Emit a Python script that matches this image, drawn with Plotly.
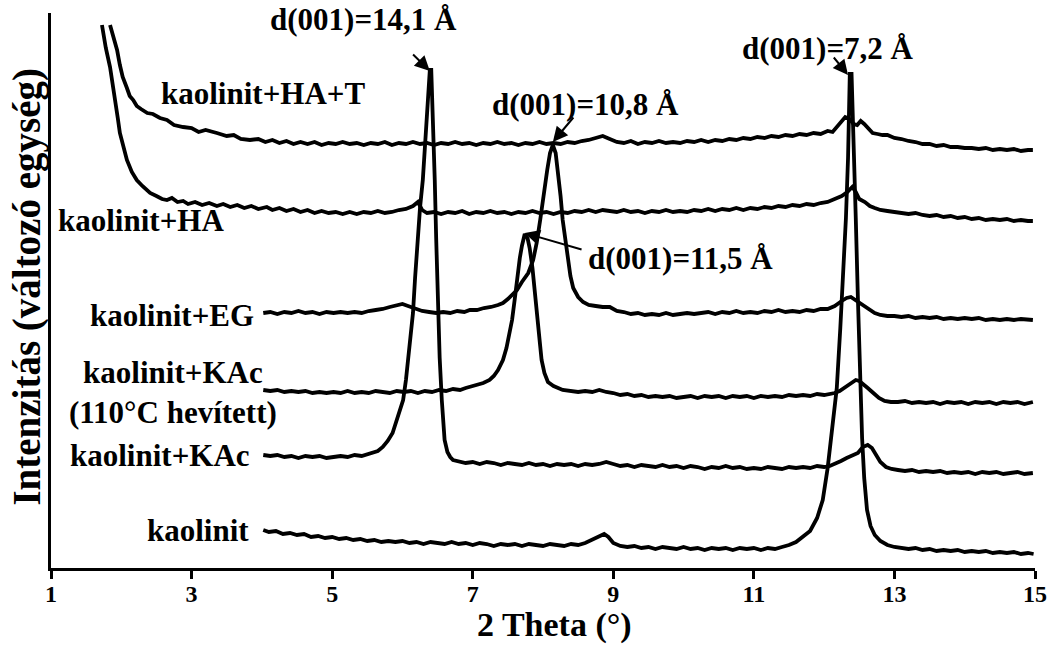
import plotly.graph_objects as go

# ---------------- data (2 Theta in degrees, intensity in arbitrary offset units) -------------
kaolinit_x = [4.02,4.1,4.2,4.3,4.4,4.5,4.6,4.7,4.8,4.9,5.0,5.1,5.2,5.3,5.4,5.5,5.6,5.7,5.8,5.9,6.0,6.1,6.2,6.3,6.4,6.5,6.6,6.7,6.8,6.9,7.0,7.1,7.2,7.3,7.4,7.5,7.6,7.7,7.8,7.9,8.0,8.1,8.2,8.3,8.4,8.5,8.6,8.7,8.8,8.87,8.93,9.0,9.1,9.2,9.3,9.4,9.5,9.6,9.7,9.8,9.9,10.0,10.1,10.2,10.3,10.4,10.5,10.6,10.7,10.8,10.9,11.0,11.1,11.2,11.3,11.4,11.5,11.6,11.7,11.8,11.9,11.98,12.05,12.12,12.18,12.23,12.27,12.31,12.34,12.365,12.39,12.42,12.45,12.48,12.51,12.54,12.57,12.61,12.66,12.72,12.8,12.9,13.0,13.1,13.2,13.3,13.4,13.5,13.6,13.7,13.8,13.9,14.0,14.1,14.2,14.3,14.4,14.5,14.6,14.7,14.8,14.9,14.98]
kaolinit_y = [38,36,37,34,35,33,34,31,32,30,31,29,30,28,29,27,28,26,27,26,27,25,26,24,26,25,24,26,24,25,23,25,24,22,24,23,24,22,24,23,22,24,23,22,24,23,25,28,32,34,31,25,22,21,22,20,21,19,21,20,19,21,19,20,18,20,19,20,18,20,19,20,18,20,19,21,23,26,31,37,50,68,100,140,180,240,290,350,410,494,494,430,350,270,195,130,90,58,42,33,27,23,21,20,19,20,18,19,17,18,17,18,16,17,16,17,15,16,15,16,14,15,14]

kac_x = [4.02,4.12,4.22,4.32,4.42,4.52,4.62,4.72,4.82,4.92,5.02,5.12,5.22,5.32,5.42,5.5,5.58,5.65,5.72,5.79,5.86,5.92,5.97,6.01,6.05,6.08,6.12,6.15,6.18,6.21,6.25,6.29,6.32,6.35,6.39,6.41,6.43,6.46,6.48,6.51,6.53,6.56,6.58,6.6,6.64,6.68,6.72,6.8,6.9,7.0,7.1,7.2,7.3,7.4,7.5,7.6,7.7,7.8,7.9,8.0,8.1,8.2,8.3,8.4,8.5,8.6,8.7,8.8,8.9,9.0,9.1,9.2,9.3,9.4,9.5,9.6,9.7,9.8,9.9,10.0,10.1,10.2,10.3,10.4,10.5,10.6,10.7,10.8,10.9,11.0,11.1,11.2,11.3,11.4,11.5,11.6,11.7,11.8,11.9,12.0,12.08,12.16,12.24,12.32,12.4,12.48,12.55,12.62,12.68,12.74,12.8,12.88,12.96,13.05,13.15,13.25,13.35,13.45,13.55,13.65,13.75,13.85,13.95,14.05,14.15,14.25,14.35,14.45,14.55,14.65,14.75,14.85,14.97]
kac_y = [113,112,113,111,112,110,112,111,112,110,111,112,111,113,112,114,115,117,121,127,135,148,158,168,188,208,232,255,290,325,360,388,420,460,498,498,460,388,330,255,210,168,145,128,116,111,108,107,105,106,104,106,105,103,105,104,103,105,103,104,102,104,103,104,102,104,103,104,106,104,102,103,101,103,102,101,103,101,102,100,102,101,99,101,100,102,100,101,99,100,99,101,100,99,101,100,101,100,102,101,102,104,107,110,112,115,121,123,120,113,106,101,99,98,97,98,96,97,96,97,95,96,95,96,94,96,95,96,94,95,96,94,95]

kac110_x = [4.02,4.12,4.22,4.32,4.42,4.52,4.62,4.72,4.82,4.92,5.02,5.12,5.22,5.32,5.42,5.52,5.62,5.72,5.82,5.92,6.02,6.12,6.22,6.32,6.42,6.52,6.62,6.72,6.82,6.9,6.96,7.05,7.15,7.24,7.3,7.36,7.43,7.48,7.52,7.56,7.6,7.63,7.67,7.7,7.74,7.78,7.81,7.85,7.88,7.91,7.93,7.96,7.98,8.02,8.07,8.15,8.28,8.4,8.5,8.6,8.7,8.8,8.9,9.0,9.1,9.2,9.3,9.4,9.5,9.6,9.7,9.8,9.9,10.0,10.1,10.2,10.3,10.4,10.5,10.6,10.7,10.8,10.9,11.0,11.1,11.2,11.3,11.4,11.5,11.6,11.7,11.8,11.9,12.0,12.08,12.15,12.22,12.3,12.38,12.45,12.5,12.56,12.62,12.7,12.78,12.86,12.95,13.05,13.15,13.25,13.35,13.45,13.55,13.65,13.75,13.85,13.95,14.05,14.15,14.25,14.35,14.45,14.55,14.65,14.75,14.85,14.97]
kac110_y = [178,177,178,176,177,176,177,175,176,175,176,175,177,175,176,175,177,176,175,177,176,177,175,177,176,178,177,179,178,180,181,183,185,188,192,198,208,220,232,248,270,291,310,322,334,330,320,300,281,260,241,222,208,195,186,182,178,177,176,177,176,178,176,175,173,174,172,173,171,172,171,172,170,171,172,170,172,171,172,170,172,171,172,170,172,171,172,171,173,172,173,172,174,173,174,175,177,181,185,188,187,184,180,175,170,167,166,166,167,165,166,165,166,164,166,165,166,164,166,165,166,164,166,165,166,164,166]

eg_x = [4.02,4.12,4.22,4.32,4.42,4.52,4.62,4.72,4.82,4.92,5.02,5.12,5.22,5.32,5.42,5.52,5.62,5.72,5.82,5.92,6.0,6.08,6.18,6.28,6.38,6.48,6.58,6.68,6.78,6.88,6.96,7.06,7.16,7.26,7.36,7.43,7.5,7.56,7.63,7.7,7.79,7.86,7.91,7.96,8.01,8.06,8.1,8.14,8.18,8.21,8.25,8.28,8.32,8.35,8.39,8.43,8.5,8.57,8.65,8.75,8.85,8.95,9.05,9.15,9.25,9.35,9.45,9.55,9.65,9.75,9.85,9.95,10.05,10.15,10.25,10.35,10.45,10.55,10.65,10.75,10.85,10.95,11.05,11.15,11.25,11.35,11.45,11.55,11.65,11.75,11.85,11.95,12.05,12.15,12.25,12.32,12.38,12.44,12.5,12.58,12.65,12.72,12.8,12.9,13.0,13.1,13.2,13.3,13.4,13.5,13.6,13.7,13.8,13.9,14.0,14.1,14.2,14.3,14.4,14.5,14.6,14.7,14.8,14.9,14.97]
eg_y = [255,256,254,256,255,257,255,256,254,256,255,256,255,256,255,257,258,259,261,263,264,262,259,257,256,255,256,255,257,256,258,258,260,261,263,265,269,273,278,286,295,308,325,348,375,398,415,423,415,398,372,348,325,308,292,280,271,266,263,262,261,261,257,256,254,255,253,254,253,255,253,254,255,254,255,256,254,256,255,257,255,256,255,257,256,258,256,257,256,258,257,259,259,262,267,270,271,268,266,262,258,255,253,252,252,251,252,250,251,250,251,249,250,249,250,249,250,248,249,248,249,248,249,248,248]

ha_x = [1.725,1.78,1.84,1.88,1.91,1.95,1.98,2.03,2.08,2.15,2.22,2.3,2.41,2.5,2.58,2.65,2.72,2.8,2.88,2.95,3.05,3.15,3.25,3.36,3.45,3.55,3.65,3.75,3.85,3.95,4.07,4.15,4.25,4.35,4.45,4.55,4.65,4.75,4.85,4.95,5.05,5.15,5.25,5.35,5.45,5.55,5.65,5.75,5.85,5.95,6.05,6.15,6.22,6.28,6.35,6.45,6.55,6.65,6.75,6.85,6.95,7.05,7.15,7.25,7.35,7.45,7.55,7.65,7.75,7.85,7.95,8.05,8.15,8.25,8.35,8.45,8.55,8.65,8.75,8.85,8.95,9.05,9.15,9.25,9.35,9.45,9.55,9.65,9.75,9.85,9.95,10.05,10.15,10.25,10.35,10.45,10.55,10.65,10.75,10.85,10.95,11.05,11.15,11.25,11.35,11.45,11.55,11.65,11.75,11.85,11.95,12.05,12.15,12.25,12.33,12.4,12.45,12.5,12.58,12.65,12.72,12.8,12.9,13.0,13.1,13.2,13.3,13.4,13.5,13.6,13.7,13.8,13.9,14.0,14.1,14.2,14.3,14.4,14.5,14.6,14.7,14.8,14.9,14.97]
ha_y = [543,520,501,480,468,450,435,420,408,396,388,382,375,372,369,368,370,366,367,364,366,363,365,362,364,361,363,360,362,359,361,358,360,357,359,356,358,355,357,355,356,354,356,354,356,355,357,355,356,358,359,362,366,358,355,356,354,356,355,357,354,356,355,357,355,356,354,356,355,357,355,356,354,356,355,357,356,358,356,358,357,356,358,356,357,355,357,356,358,356,357,356,358,357,359,357,359,358,360,358,360,359,361,360,362,361,363,362,364,363,365,366,369,372,376,381,376,369,366,362,360,358,357,356,355,354,355,353,352,353,351,352,350,351,349,350,348,349,348,349,347,348,347,347]

hat_x = [1.84,1.89,1.94,1.98,2.02,2.08,2.12,2.17,2.22,2.28,2.37,2.45,2.55,2.65,2.75,2.88,3.0,3.1,3.2,3.36,3.5,3.6,3.7,3.83,3.95,4.05,4.15,4.25,4.35,4.45,4.55,4.65,4.75,4.85,4.95,5.05,5.15,5.25,5.35,5.45,5.55,5.65,5.75,5.85,5.95,6.05,6.15,6.25,6.35,6.45,6.55,6.65,6.75,6.85,6.95,7.05,7.15,7.25,7.35,7.45,7.55,7.65,7.75,7.85,7.95,8.05,8.15,8.25,8.35,8.45,8.55,8.65,8.75,8.85,8.95,9.05,9.15,9.25,9.35,9.45,9.55,9.65,9.75,9.85,9.95,10.05,10.15,10.25,10.35,10.45,10.55,10.65,10.75,10.85,10.95,11.05,11.15,11.25,11.35,11.45,11.55,11.65,11.75,11.85,11.95,12.05,12.12,12.18,12.24,12.3,12.36,12.42,12.47,12.52,12.57,12.62,12.69,12.76,12.83,12.9,13.0,13.1,13.2,13.3,13.4,13.5,13.6,13.7,13.8,13.9,14.0,14.1,14.2,14.3,14.4,14.5,14.6,14.7,14.8,14.9,14.97]
hat_y = [543,530,518,503,491,480,472,468,462,459,455,454,450,448,443,441,440,436,438,435,432,433,429,428,429,426,428,425,427,424,426,424,426,423,425,424,426,424,425,423,425,424,426,423,425,424,426,424,425,423,425,424,426,424,425,423,425,424,426,424,425,423,425,424,426,424,425,424,426,425,427,428,430,432,429,426,425,427,424,426,425,427,425,426,425,427,426,428,426,428,427,429,428,430,429,431,430,432,431,433,432,434,433,435,434,437,436,441,446,451,449,444,443,447,444,440,435,434,433,433,430,429,427,426,424,424,422,423,421,421,420,420,419,420,418,419,418,419,417,418,418]

series = [
    ("kaolinit", kaolinit_x, kaolinit_y),
    ("kaolinit+KAc", kac_x, kac_y),
    ("kaolinit+KAc (110°C hevített)", kac110_x, kac110_y),
    ("kaolinit+EG", eg_x, eg_y),
    ("kaolinit+HA", ha_x, ha_y),
    ("kaolinit+HA+T", hat_x, hat_y),
]

# curve labels: text, x, y
curve_labels = [
    ("kaolinit", 3.09, 38),
    ("kaolinit+KAc", 2.55, 113),
    ("kaolinit+KAc<br>(110°C hevített)", 2.74, 176),
    ("kaolinit+EG", 2.72, 253),
    ("kaolinit+HA", 2.28, 348),
    ("kaolinit+HA+T", 4.02, 475),
]

# peak annotations: text, text x, text y (paper fraction of plot height), y-anchor,
# arrow tail x, tail y, head x, head y (data units)
peak_labels = [
    ("d(001)=14,1 Å", 5.45, 568 / 555, "top", 6.13, 515, 6.39, 497),
    ("d(001)=10,8 Å", 8.61, 463 / 555, "middle", 8.45, 452, 8.14, 426),
    ("d(001)=11,5 Å", 9.96, 310 / 555, "middle", 8.57, 318, 7.74, 335),
    ("d(001)=7,2 Å", 12.05, 520 / 555, "middle", 12.12, 512, 12.34, 493),
]

xticks = [1, 3, 5, 7, 9, 11, 13, 15]

FONT = "Liberation Serif, Times New Roman, serif"

fig = go.Figure()
for name, xs, ys in series:
    fig.add_trace(go.Scatter(x=xs, y=ys, mode="lines", name=name,
                             line=dict(color="black", width=3.8), showlegend=False,
                             hoverinfo="skip"))

annotations = []
for text, x, y in curve_labels:
    annotations.append(dict(x=x, y=y, xref="x", yref="y", text=text, showarrow=False,
                            font=dict(family=FONT, size=31, color="black", weight="bold"),
                            xanchor="center", yanchor="middle"))
for text, tx, ty, anc, ax, ay, hx, hy in peak_labels:
    annotations.append(dict(x=tx, y=ty, xref="x", yref="paper", text=text, showarrow=False,
                            font=dict(family=FONT, size=31, color="black", weight="bold"),
                            xanchor="center", yanchor=anc))
    annotations.append(dict(x=hx, y=hy, xref="x", yref="y", ax=ax, ay=ay,
                            axref="x", ayref="y", text="", showarrow=True,
                            arrowhead=2, arrowsize=1.5, arrowwidth=2, arrowcolor="black"))

annotations.append(dict(x=0.512, y=-78 / 555, xref="paper", yref="paper",
                        text="2 Theta (°)", showarrow=False,
                        font=dict(family=FONT, size=34, color="black", weight="bold"),
                        xanchor="center", yanchor="bottom"))
annotations.append(dict(x=-0.0244, y=0.507, xref="paper", yref="paper",
                        text="Intenzitás (változó egység)", showarrow=False, textangle=-90,
                        font=dict(family=FONT, size=39, color="black", weight="bold"),
                        xanchor="center", yanchor="middle"))

fig.update_layout(
    width=1051, height=646, autosize=False,
    margin=dict(l=51, r=16, t=13, b=78, autoexpand=False),
    paper_bgcolor="white", plot_bgcolor="white",
    annotations=annotations,
    xaxis=dict(range=[1, 15], tickvals=xticks, ticktext=[str(t) for t in xticks],
               showline=True, linewidth=3, linecolor="black", ticks="outside",
               ticklen=8, tickwidth=3, tickcolor="black", showgrid=False, zeroline=False,
               automargin=False, ticklabelstandoff=-6,
               tickfont=dict(family=FONT, size=24, color="black", weight="bold")),
    yaxis=dict(range=[0, 555], showline=True, linewidth=3, linecolor="black",
               showticklabels=False, ticks="", showgrid=False, zeroline=False,
               automargin=False),
)

fig.write_html("out.html",
               config={"responsive": False, "displayModeBar": False},
               post_script="document.documentElement.style.overflow='hidden';document.body.style.margin='0';document.body.style.overflow='hidden';")
